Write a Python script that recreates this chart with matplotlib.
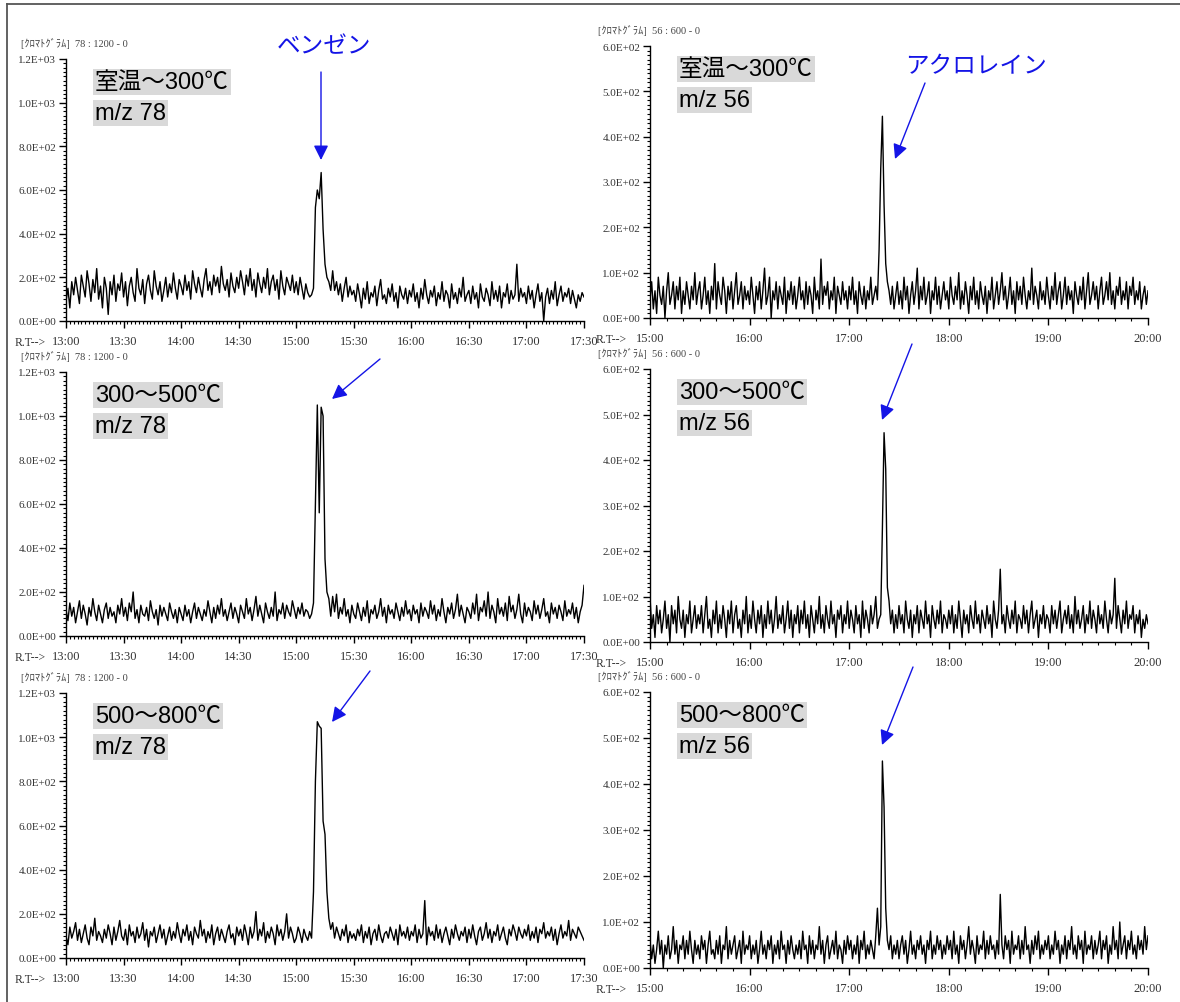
import numpy as np
import matplotlib
matplotlib.use("Agg")
import matplotlib.pyplot as plt
from matplotlib.ticker import MultipleLocator, FuncFormatter
from matplotlib.patches import FancyArrowPatch
from matplotlib.lines import Line2D

plt.rcParams['font.family'] = ['Noto Sans CJK JP', 'DejaVu Sans']

W, H = 1180, 1003

# ---------------- data ----------------
# left column: m/z 78, 13:00 - 17:30 (minutes), 1-min samples
left_start, left_end = 780, 1050
right_start, right_end = 900, 1200

L1 = [90,150,60,180,120,200,140,80,210,160,110,230,170,90,190,130,240,100,160,60,200,150,30,180,120,210,90,170,140,220,
      110,180,70,160,200,130,90,240,150,120,190,80,170,210,140,100,230,160,120,180,90,140,200,110,170,130,220,150,100,190,
      160,120,210,140,180,100,230,170,130,200,150,110,190,240,140,180,120,210,160,200,130,250,170,140,190,110,220,160,130,200,
      150,230,180,120,210,160,240,140,190,110,220,170,130,200,150,240,120,180,210,140,190,100,230,160,120,200,170,140,210,130,
      180,120,200,150,100,170,130,110,120,150,520,600,560,680,420,260,200,180,140,230,140,180,120,170,90,150,200,110,160,120,
      140,90,170,120,60,150,100,180,80,130,110,160,70,140,190,100,120,80,150,110,170,90,130,60,160,120,100,150,80,140,
      110,170,90,130,60,150,100,190,120,80,140,110,160,70,130,100,180,90,140,120,60,170,100,130,80,150,110,200,90,120,
      140,80,160,100,130,60,170,110,90,150,120,70,180,100,140,90,160,60,130,110,170,80,140,100,120,260,90,150,110,130,
      80,160,100,140,60,120,170,90,130,0,110,150,80,140,100,180,70,120,160,90,130,110,150,80,140,100,60,120,90,130,110]

L2 = [120,70,150,90,130,60,110,160,80,140,100,50,130,90,170,110,70,140,100,60,120,150,80,130,90,110,60,140,100,170,
      90,130,70,150,110,200,80,120,60,140,100,90,130,70,160,110,80,120,50,140,90,130,100,70,150,110,80,120,60,130,
      100,70,140,90,120,60,110,150,80,130,100,70,120,90,160,110,60,130,80,140,100,170,90,120,70,110,150,80,130,100,
      60,140,110,80,170,100,130,70,120,180,90,140,100,60,150,110,80,130,90,200,70,120,100,150,80,140,110,90,160,120,
      80,130,100,150,90,120,110,80,100,150,600,1050,560,1040,1000,350,200,170,90,180,110,190,80,130,100,170,90,120,60,140,
      100,80,150,110,70,130,90,160,60,120,100,140,80,110,170,90,130,60,140,100,120,80,150,110,70,130,90,160,100,120,
      70,140,100,120,60,150,90,130,110,80,160,100,140,70,120,90,170,110,60,130,100,150,80,120,190,90,140,100,60,130,
      110,80,150,100,190,70,130,110,160,90,200,80,140,110,60,170,100,130,90,150,70,180,110,140,80,120,190,100,60,150,
      90,130,110,70,160,100,140,80,120,170,90,110,60,150,100,130,80,140,110,70,160,90,120,100,150,80,130,60,110,140,230]

L3 = [100,60,140,90,120,160,80,130,70,110,150,90,60,140,100,180,80,120,100,70,130,90,150,110,60,140,80,120,170,100,
      80,130,60,150,100,120,70,140,90,110,160,80,130,50,120,100,140,70,110,150,90,130,60,100,140,80,120,90,160,110,
      70,130,100,150,80,120,60,140,110,90,170,100,130,70,120,90,150,60,110,140,80,130,100,70,120,150,90,110,60,140,
      100,130,80,150,110,60,140,90,120,210,80,130,100,160,70,120,90,140,110,60,150,100,130,80,120,200,90,140,110,70,
      90,140,110,70,130,100,80,120,90,300,800,1070,1050,1040,620,560,300,180,130,160,90,140,110,80,130,100,150,70,120,90,
      110,80,130,100,150,70,120,90,140,60,110,130,80,150,100,70,110,120,90,140,110,80,130,60,150,100,120,90,140,80,
      120,100,150,70,130,90,110,260,60,140,100,120,80,150,90,130,70,110,140,100,60,130,90,150,110,80,120,100,140,70,
      130,90,150,100,60,120,140,80,110,160,90,130,70,120,100,150,80,110,140,90,60,130,100,150,120,80,140,110,90,130,
      100,150,80,120,90,140,70,130,110,160,90,120,100,140,80,130,60,110,150,90,120,100,170,80,130,110,90,140,120,100,80]

# right column: m/z 56, 15:00 - 20:00
R1 = [40,80,20,60,10,90,50,30,70,0,60,100,30,50,80,20,70,40,90,10,60,30,80,50,20,70,40,100,30,60,
      80,20,50,90,30,60,10,70,40,120,20,80,50,30,90,60,10,70,40,80,20,60,100,30,50,80,20,70,40,60,
      30,90,50,10,70,40,80,20,60,110,30,50,90,0,60,40,80,20,70,50,30,90,10,60,40,80,30,70,20,50,
      90,40,60,20,80,30,70,50,10,90,40,60,20,130,30,70,50,80,20,60,40,90,10,70,50,30,80,40,60,20,
      70,40,90,30,60,10,80,50,30,70,20,60,40,90,30,50,70,40,150,330,445,250,120,80,60,30,70,20,50,80,
      30,60,20,90,40,70,10,50,80,30,60,110,20,70,40,90,30,50,80,10,60,40,90,30,70,20,50,80,40,60,
      20,90,50,30,70,40,100,20,60,30,80,50,10,70,40,90,30,60,20,80,50,30,70,10,60,40,90,20,50,80,
      30,60,100,40,70,20,50,90,30,60,10,80,40,70,30,90,50,20,60,40,110,30,70,50,20,80,40,60,30,90,
      50,20,70,40,100,30,60,80,20,50,90,30,70,40,60,10,80,50,30,70,40,90,20,60,100,30,50,80,40,70,
      20,60,90,30,50,80,40,100,30,60,20,70,50,90,30,60,40,80,20,70,50,90,30,60,40,80,20,50,70,30,60]

R2 = [100,30,60,10,80,40,70,20,50,90,30,60,0,80,40,70,20,100,50,30,70,10,60,40,90,20,50,80,30,60,
      40,80,20,60,100,30,50,10,70,40,90,20,60,30,80,50,10,70,40,90,20,60,80,30,50,10,70,40,100,20,
      60,30,90,50,20,70,40,80,10,60,30,90,40,70,20,50,100,30,60,40,80,20,50,90,30,70,10,60,40,80,
      20,70,40,90,30,60,10,80,50,20,70,40,100,30,60,20,80,50,30,90,40,60,10,70,50,80,20,60,40,90,
      30,70,50,20,80,40,60,10,90,30,70,50,20,80,40,60,100,30,50,60,250,460,380,120,90,40,70,20,60,30,
      80,40,60,20,90,50,30,70,10,60,40,80,20,70,50,30,90,40,60,10,80,50,30,70,40,90,20,60,50,30,
      70,40,80,20,60,30,90,50,10,70,40,60,20,80,50,30,90,40,60,20,70,50,30,80,40,60,10,90,50,30,
      70,160,40,60,20,80,50,30,70,40,90,20,60,50,30,80,40,70,20,60,90,30,50,70,10,60,40,80,30,60,
      50,20,80,40,70,30,60,90,20,50,70,40,80,30,60,20,100,40,70,30,50,80,20,60,40,90,30,70,50,20,
      80,40,60,30,90,50,20,70,40,60,140,30,80,50,20,70,40,90,30,60,50,80,20,60,40,70,10,50,30,60,40]

R3 = [60,20,50,10,40,80,30,60,0,50,30,70,20,40,90,30,60,10,50,40,70,20,60,30,80,40,10,60,30,50,
      20,70,40,60,10,50,80,30,40,20,60,30,70,10,50,40,90,20,60,30,50,70,20,40,60,10,80,30,50,40,
      70,20,50,30,60,10,40,80,30,50,20,60,40,70,10,50,30,60,20,80,40,50,10,60,30,70,40,20,50,30,
      60,20,80,40,50,10,70,30,60,20,50,40,90,30,60,10,50,70,20,40,60,30,80,20,50,40,10,60,30,70,
      40,60,20,50,30,70,10,60,40,80,20,50,30,60,40,20,70,130,50,90,450,350,130,60,40,70,20,50,30,60,
      20,50,70,30,60,10,40,80,30,50,20,60,40,70,30,50,10,60,40,80,20,50,30,70,40,60,20,50,30,70,
      40,60,20,80,30,50,10,70,40,60,20,50,90,30,60,40,10,70,30,50,40,80,20,60,30,70,40,50,20,60,
      30,160,50,20,70,40,60,10,80,30,50,40,70,20,60,30,90,40,50,10,60,30,70,40,80,20,50,30,60,40,
      70,20,50,30,80,40,60,10,50,30,70,20,60,40,90,30,50,20,70,40,60,10,80,30,50,40,70,20,60,30,
      50,80,20,60,40,70,10,50,30,90,40,60,20,100,30,50,70,20,60,40,80,30,50,20,70,40,60,30,90,40,70]

temp_labels = ['室温～300℃', '300～500℃', '500～800℃']
mz_left, mz_right = 'm/z 78', 'm/z 56'
header_left = '[ｸﾛﾏﾄｸﾞﾗﾑ]  78 : 1200 - 0'
header_right = '[ｸﾛﾏﾄｸﾞﾗﾑ]  56 : 600 - 0'
left_ymax, right_ymax = 1200, 600

# ---------------- layout (pixel boxes) ----------------
def fx(x): return x / W
def fy(y): return 1 - y / H

left_boxes = [(66, 584, 60, 322), (66, 584, 373, 637), (66, 584, 694, 959)]
right_boxes = [(650, 1148, 47, 319), (650, 1148, 370, 643), (650, 1148, 693, 969)]

fig = plt.figure(figsize=(W / 100, H / 100), dpi=100)

SERIF = ['Liberation Serif', 'Noto Sans CJK JP']
LABEL = ['Liberation Sans', 'Noto Sans CJK JP']

def tfmt(v, pos):
    m = int(round(v))
    return f"{m // 60}:{m % 60:02d}"

def yfmt(v, pos):
    return f"{v:.1E}"

def make_axes(box, series, t0, t1, ymax, ymajor, yminor, xmajor, xminor, header, temp, mz, rt_x, hd_x):
    x0, x1, y0, y1 = box
    ax = fig.add_axes([fx(x0), fy(y1), (x1 - x0) / W, (y1 - y0) / H])
    vals = np.array(series, dtype=float)
    t = np.linspace(t0, t1, len(vals))
    ax.plot(t, vals, color='black', lw=1.0)
    ax.set_xlim(t0, t1)
    ax.set_ylim(0, ymax)
    for s in ['top', 'right']:
        ax.spines[s].set_visible(False)
    for s in ['left', 'bottom']:
        ax.spines[s].set_linewidth(1.0)
    ax.yaxis.set_major_locator(MultipleLocator(ymajor))
    ax.yaxis.set_minor_locator(MultipleLocator(yminor))
    ax.xaxis.set_major_locator(MultipleLocator(xmajor))
    ax.xaxis.set_minor_locator(MultipleLocator(xminor))
    ax.yaxis.set_major_formatter(FuncFormatter(yfmt))
    ax.xaxis.set_major_formatter(FuncFormatter(tfmt))
    ax.tick_params(axis='y', which='major', direction='out', length=5, width=1, pad=2)
    ax.tick_params(axis='x', which='major', direction='out', length=5, width=1, pad=5)
    ax.tick_params(axis='both', which='minor', direction='out', length=2.5, width=0.8)
    for lab in ax.get_yticklabels():
        lab.set_fontfamily(['Liberation Serif'])
        lab.set_fontsize(8)
        lab.set_color('#333333')
    for lab in ax.get_xticklabels():
        lab.set_fontfamily(['Liberation Serif'])
        lab.set_fontsize(9)
        lab.set_color('#333333')
    # header
    fig.text(fx(hd_x), fy(y0 - 16), header, fontsize=7.5, color='#444444',
             family=SERIF, va='center', ha='left')
    # R.T--> label
    fig.text(fx(rt_x), fy(y1 + 21), 'R.T-->', color='#333333', va='center', ha='left',
             family=['Liberation Serif'], fontsize=8.5)
    # temperature / m/z boxes
    fig.text(fx(x0 + 29), fy(y0 + 23), temp, fontsize=17, va='center', ha='left',
             family=LABEL, color='black',
             bbox=dict(facecolor='#d9d9d9', edgecolor='none', pad=1.5))
    fig.text(fx(x0 + 29), fy(y0 + 54), mz, fontsize=17, va='center', ha='left',
             family=LABEL, color='black',
             bbox=dict(facecolor='#d9d9d9', edgecolor='none', pad=1.5))
    return ax

left_series = [L1, L2, L3]
right_series = [R1, R2, R3]
for i in range(3):
    make_axes(left_boxes[i], left_series[i], left_start, left_end, left_ymax, 200, 20,
              30, 2, header_left, temp_labels[i], mz_left, 15, 21)
    make_axes(right_boxes[i], right_series[i], right_start, right_end, right_ymax, 100, 10,
              60, 10, header_right, temp_labels[i], mz_right, 596, 598)

# ---------------- annotations ----------------
blue = '#1414e6'

def arrow(xa, ya, xb, yb):
    a = FancyArrowPatch((fx(xa), fy(ya)), (fx(xb), fy(yb)), transform=fig.transFigure,
                        arrowstyle='-|>', mutation_scale=22, color=blue, lw=1.0,
                        shrinkA=0, shrinkB=0)
    fig.add_artist(a)

fig.text(fx(324), fy(47), 'ベンゼン', color=blue, fontsize=17, ha='center', va='center',
         family=['Noto Sans CJK JP'])
fig.text(fx(976), fy(67), 'アクロレイン', color=blue, fontsize=17, ha='center', va='center',
         family=['Noto Sans CJK JP'])
arrow(321, 73, 321, 161)
arrow(925, 84, 895, 160)
arrow(380, 360, 332, 400)
arrow(370, 672, 332, 723)
arrow(912, 345, 882, 421)
arrow(913, 668, 882, 746)

# frame lines (top and left)
fig.add_artist(Line2D([fx(7), 1.0], [fy(5), fy(5)], transform=fig.transFigure, color='#555555', lw=1.3))
fig.add_artist(Line2D([fx(7), fx(7)], [fy(5), 0.0], transform=fig.transFigure, color='#555555', lw=1.3))

fig.savefig('out.png', dpi=100, facecolor='white')
